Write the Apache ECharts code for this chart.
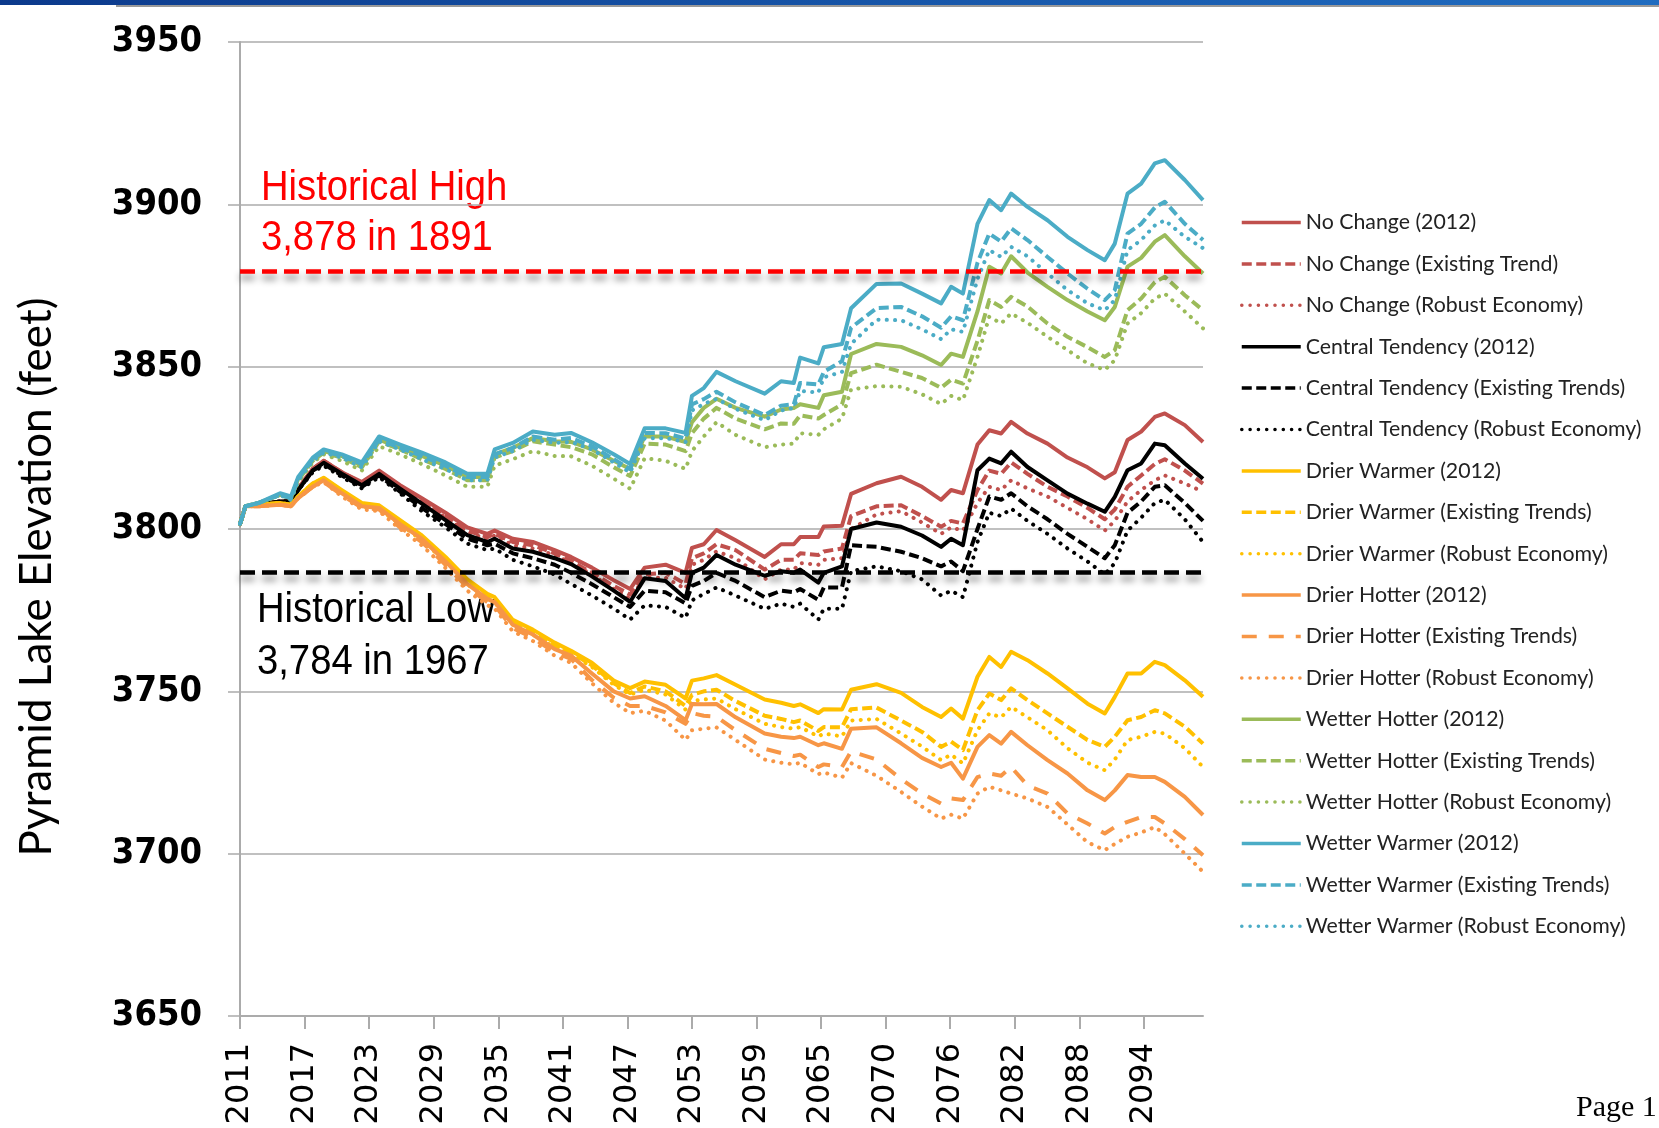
<!DOCTYPE html>
<html>
<head>
<meta charset="utf-8">
<title>Pyramid Lake Elevation</title>
<script src="https://cdn.jsdelivr.net/npm/echarts@6/dist/echarts.min.js"></script>
<style>
html, body { margin: 0; padding: 0; background: #fff; }
#main { width: 1659px; height: 1128px; }
</style>
</head>
<body>
<div id="main"></div>
<script>
// x = months since Oct 2011 (sample points)
var months = [0, 6, 20, 44, 56, 64, 80, 92, 112, 134,
    153, 176, 200, 226, 250, 272, 280, 300, 322, 346,
    364, 387, 411, 429, 445, 468, 490, 497, 510, 524,
    545, 577, 595, 609, 616, 636, 642, 662, 672, 700,
    727, 750, 771, 782, 795, 811, 824, 837, 848, 866,
    888, 910, 932, 951, 962, 976, 991, 1006, 1017, 1039,
    1059];

// axis ticks / labels
var tickMonths = [0, 71, 142, 213, 284, 355, 426, 497, 568, 639, 710, 781, 852, 923, 994];
var tickLabels = ['2011', '2017', '2023', '2029', '2035', '2041', '2047', '2053', '2059', '2065', '2070', '2076', '2082', '2088', '2094'];

var historicalHigh = 3879.5;
var historicalLow = 3786.8;

// No Change
var noChange2012 = [3801.5, 3807, 3807.5, 3808.5, 3808.5, 3812.5, 3818.5, 3821, 3817.5, 3814.5,
    3818, 3813.5, 3809.5, 3805, 3800.5, 3798.5, 3799.5, 3797, 3796, 3793.5,
    3791.4, 3788.1, 3784.2, 3781.5, 3788.1, 3789, 3786.5, 3794.2, 3795.3, 3799.7,
    3796.5, 3791.4, 3795.3, 3795.3, 3797.5, 3797.5, 3800.8, 3801, 3810.8, 3814.1,
    3816.1, 3813, 3809, 3812, 3811, 3826, 3830.4, 3829.4, 3833, 3829.4,
    3826.3, 3822, 3819, 3815.6, 3817.5, 3827.4, 3830, 3834.5, 3835.6, 3832,
    3826.8];
var noChangeTrend = [3801.5, 3807, 3807.5, 3808.5, 3808.5, 3812.5, 3818.5, 3821, 3817.5, 3814,
    3817.5, 3813, 3809, 3804, 3799.5, 3797.5, 3798.5, 3796, 3795, 3792.5,
    3790.2, 3786.5, 3782.5, 3779.8, 3786, 3786.5, 3783.1, 3791, 3792.5, 3795.3,
    3793.5, 3787.5, 3790.5, 3790.5, 3792.5, 3792, 3793.1, 3794, 3804, 3807,
    3807.3, 3804, 3800.7, 3802.5, 3801.7, 3812, 3818, 3817, 3820.5, 3817,
    3813, 3810, 3806.5, 3803, 3806, 3813, 3816.5, 3820, 3821.5, 3818,
    3814];
var noChangeRobust = [3801.5, 3807, 3807.5, 3808.5, 3808.5, 3812.5, 3818.5, 3820.5, 3817, 3813.5,
    3817, 3812.5, 3808.5, 3803.5, 3799, 3797, 3798, 3795, 3794, 3792,
    3789.5, 3786, 3781.5, 3778.5, 3785, 3785, 3781.5, 3789, 3790.5, 3793.1,
    3791, 3784.5, 3787.5, 3787.5, 3789.5, 3789, 3790.5, 3791, 3800, 3804.5,
    3805.5, 3802, 3798.5, 3800.5, 3799.5, 3808, 3813, 3812, 3815, 3812.5,
    3810, 3806.5, 3803, 3799.5, 3802.5, 3808.5, 3812, 3815, 3816.5, 3814,
    3811.5];

// Central Tendency
var central2012 = [3801.5, 3807, 3807.5, 3808.5, 3808.5, 3812, 3818, 3820.4, 3817, 3813.5,
    3817, 3812.4, 3807.8, 3802.7, 3798.1, 3796, 3797, 3794, 3793, 3791,
    3789.2, 3785.4, 3781, 3777.6, 3784.8, 3784, 3778.7, 3786.5, 3788.1, 3792,
    3789, 3785.6, 3787, 3786.5, 3787.5, 3783.5, 3786.5, 3788.5, 3800, 3802,
    3800.7, 3798, 3794.5, 3797, 3795, 3818.1, 3821.7, 3820.2, 3823.8, 3819.1,
    3815, 3810.9, 3807.8, 3805.3, 3809.9, 3818.1, 3820.2, 3826.3, 3825.8, 3820.2,
    3815.5];
var centralTrend = [3801.5, 3807, 3807.5, 3808.5, 3808.5, 3812, 3818, 3820, 3816.5, 3813,
    3816.5, 3811.5, 3806.5, 3801.5, 3797, 3795, 3795.5, 3792.5, 3791, 3789,
    3786.5, 3783, 3779, 3776, 3781, 3780.5, 3777.1, 3782.5, 3784, 3786.5,
    3784, 3779, 3781, 3780.5, 3781.5, 3778.2, 3782, 3782, 3795, 3794.5,
    3793, 3791, 3788.5, 3790, 3787, 3800, 3810, 3809, 3811, 3807,
    3803, 3798.5, 3794.5, 3791, 3795, 3805, 3808.5, 3813, 3813.5, 3808,
    3802.5];
var centralRobust = [3801.5, 3807, 3807.5, 3808.5, 3808.5, 3812, 3817.5, 3819.5, 3816, 3812.5,
    3816, 3811, 3805.5, 3800.5, 3795.5, 3793.5, 3794, 3790.5, 3788.5, 3786,
    3783.1, 3779.5, 3775.5, 3772.1, 3776.5, 3776, 3772.6, 3778, 3780, 3782,
    3779.5, 3775.4, 3777, 3776, 3777, 3772.1, 3775.4, 3775.4, 3787, 3788.5,
    3787, 3784.5, 3779.5, 3781, 3779, 3796, 3805, 3804, 3806.3, 3802.5,
    3798.5, 3794, 3790, 3786, 3789.5, 3799.5, 3803.5, 3808, 3809, 3803,
    3796];

// Drier Warmer
var drierWarmer2012 = [3801.5, 3807, 3807.5, 3808, 3807.5, 3810, 3814, 3815.8, 3812, 3808,
    3807.3, 3802.7, 3798, 3791.4, 3784.5, 3780, 3779, 3772, 3769, 3765,
    3762.5, 3758.8, 3753.3, 3751, 3753, 3752, 3747.8, 3753.3, 3754, 3755,
    3752, 3747.5, 3746.5, 3745.5, 3746, 3743.3, 3744.5, 3744.4, 3750.5, 3752.2,
    3749.5, 3745.2, 3742.1, 3744.7, 3741.6, 3754.5, 3760.6, 3757.5, 3762.2, 3759.6,
    3755.5, 3750.9, 3746.2, 3743.2, 3748.3, 3755.5, 3755.5, 3759.1, 3758.1, 3753.4,
    3748.3];
var drierWarmerTrend = [3801.5, 3807, 3807.5, 3808, 3807.5, 3810, 3814, 3815.5, 3811.5, 3807.5,
    3806.5, 3802, 3797, 3790.5, 3783.5, 3779, 3778, 3771, 3768, 3764,
    3762, 3758, 3752.5, 3749.5, 3751.5, 3750, 3745.5, 3748.9, 3750, 3750.5,
    3747, 3742.5, 3741.5, 3740.5, 3741, 3737.8, 3739, 3738.9, 3744.5, 3745,
    3741, 3737.5, 3732.9, 3734.5, 3731.9, 3744.2, 3749.3, 3747.3, 3750.9, 3747.3,
    3743.2, 3739.1, 3735, 3732.9, 3736, 3741.1, 3742.1, 3744.2, 3743.2, 3739.1,
    3733.9];
var drierWarmerRobust = [3801.5, 3807, 3807.5, 3808, 3807.5, 3810, 3814, 3815.5, 3811.5, 3807,
    3806, 3801.5, 3796.5, 3790, 3783, 3778.5, 3777.5, 3770.5, 3767.5, 3763.5,
    3761.5, 3757.5, 3752, 3749, 3750.5, 3749, 3744.4, 3747, 3747.5, 3747.8,
    3744.5, 3740, 3739, 3738.5, 3739, 3736.1, 3737, 3736.1, 3741, 3741.5,
    3737, 3733, 3728.8, 3730.5, 3727.8, 3738, 3743.2, 3742, 3745.2, 3742,
    3738, 3732.5, 3728, 3725.7, 3729, 3735, 3736, 3737.5, 3737, 3732.5,
    3726.7];

// Drier Hotter
var drierHotter2012 = [3801.5, 3807, 3807, 3807.5, 3807, 3809.5, 3813, 3815, 3811, 3807,
    3806.5, 3801.5, 3797, 3790, 3783, 3778.5, 3777.5, 3770.5, 3767.5, 3763,
    3761, 3755.5, 3750, 3747.8, 3748.5, 3745.5, 3741.1, 3746.1, 3746, 3746.1,
    3742, 3737, 3736, 3735.6, 3736, 3733.4, 3734, 3732.3, 3738.5, 3738.9,
    3734, 3729.5, 3726.7, 3728, 3723.1, 3732.9, 3736.5, 3733.9, 3737.5, 3733.4,
    3728.8, 3724.7, 3719.5, 3716.5, 3719.5, 3724.2, 3723.6, 3723.6, 3722.1, 3717.5,
    3711.9];
var drierHotterTrend = [3801.5, 3807, 3807, 3807.5, 3807, 3809.5, 3813, 3814.5, 3810.5, 3806.5,
    3806, 3800.5, 3796, 3789, 3782, 3777.5, 3776.5, 3769.5, 3766.5, 3762,
    3760, 3753.5, 3748, 3745.5, 3745.5, 3743.5, 3740, 3743.3, 3742.5, 3742.2,
    3738, 3732.3, 3731, 3730.1, 3730.5, 3726.7, 3727.5, 3726.7, 3731.5, 3729,
    3723, 3718.5, 3715.4, 3717, 3716.5, 3723.6, 3724.7, 3724, 3726.7, 3721,
    3718.5, 3712.4, 3709.3, 3706.2, 3708.2, 3709.8, 3711.3, 3711.3, 3709.3, 3704.5,
    3699.5];
var drierHotterRobust = [3801.5, 3807, 3807, 3807.5, 3807, 3809.5, 3813, 3814.5, 3810, 3806,
    3805.5, 3800, 3795, 3788, 3781, 3776.5, 3775.5, 3768.5, 3765.5, 3761,
    3758.8, 3752.5, 3746.5, 3743.3, 3744, 3741, 3735, 3738, 3738.5, 3738.9,
    3735, 3729, 3728, 3727.5, 3728, 3724.5, 3725, 3723.4, 3727.9, 3724,
    3719, 3714.5, 3710.8, 3712, 3710.8, 3718.5, 3720.6, 3719.5, 3718.5, 3717,
    3714.4, 3709, 3703.5, 3701.1, 3703, 3705.2, 3706.5, 3708.2, 3706, 3700,
    3694.4];

// Wetter Hotter
var wetterHotter2012 = [3801.5, 3807, 3808, 3810.5, 3809.5, 3815.5, 3821.5, 3824, 3822.5, 3819.5,
    3827.5, 3825, 3822.5, 3819.5, 3816, 3816, 3823, 3825, 3828, 3827,
    3826.8, 3824.5, 3821, 3818.5, 3828.5, 3828.5, 3826.8, 3832.9, 3837.3, 3840.1,
    3837.3, 3834.6, 3836.8, 3837.3, 3838.4, 3837.3, 3841.2, 3842.3, 3853.9, 3857,
    3856.1, 3853.5, 3850.5, 3854, 3853, 3867, 3880.8, 3878.7, 3884, 3879,
    3874.6, 3870.5, 3867, 3864.3, 3868.4, 3880.8, 3883.5, 3888.5, 3890.5, 3884,
    3878.7];
var wetterHotterTrend = [3801.5, 3807, 3808, 3810.5, 3809.5, 3815, 3821, 3823.5, 3822, 3819,
    3827, 3824.5, 3821.5, 3818.5, 3815, 3815, 3822, 3824, 3827, 3826,
    3825.2, 3823, 3819, 3816.3, 3826.3, 3826, 3824, 3829.5, 3834, 3837.3,
    3834, 3830.7, 3832.5, 3832.4, 3835, 3834, 3835.1, 3838.4, 3848, 3850.6,
    3848.4, 3846.5, 3843.5, 3846, 3844.8, 3858, 3870.5, 3868.4, 3871.5, 3868.5,
    3863.3, 3859.2, 3856, 3853, 3855.1, 3867.4, 3871, 3876, 3877.7, 3872,
    3867.4];
var wetterHotterRobust = [3801.5, 3807, 3808, 3810.5, 3809, 3814.5, 3820.5, 3823, 3821, 3818,
    3825.5, 3823, 3820, 3816.5, 3813, 3813, 3819.5, 3821.5, 3824, 3822.5,
    3822.4, 3819.5, 3815.5, 3812.4, 3821.8, 3821, 3818.5, 3824, 3828.5, 3832.9,
    3829, 3825.2, 3826, 3826.3, 3829.5, 3829, 3830.7, 3834, 3843, 3844,
    3843.8, 3841.5, 3838.5, 3841, 3839.7, 3853, 3865.4, 3863.3, 3866.4, 3863.5,
    3859.2, 3855.1, 3851, 3849, 3852, 3863.3, 3866.5, 3871, 3872.5, 3867,
    3861.8];

// Wetter Warmer
var wetterWarmer2012 = [3801.5, 3807, 3808, 3811, 3810, 3816, 3822, 3824.5, 3823, 3820.5,
    3828.5, 3826, 3823.5, 3820.5, 3817, 3817, 3824.5, 3826.5, 3830, 3829,
    3829.6, 3826.7, 3823, 3820, 3831, 3831, 3829.6, 3841, 3843.4, 3848.4,
    3845.5, 3841.7, 3845.5, 3845, 3852.8, 3851, 3856, 3857, 3868, 3875.5,
    3875.6, 3872.5, 3869.5, 3874.6, 3872.5, 3894, 3901.3, 3898.2, 3903.3, 3899.2,
    3895.1, 3890, 3885.9, 3882.8, 3887.9, 3903.3, 3906.4, 3912.6, 3913.6, 3907.5,
    3901.3];
var wetterWarmerTrend = [3801.5, 3807, 3808, 3810.5, 3809.5, 3815.5, 3821.5, 3824, 3822.5, 3820,
    3827.5, 3825, 3822.5, 3819.5, 3816, 3816, 3823, 3825, 3828.5, 3827.5,
    3828, 3825.5, 3821.5, 3818.5, 3829.6, 3829.5, 3827.9, 3838.4, 3840, 3842.3,
    3839, 3835.1, 3838, 3838.4, 3845, 3844.5, 3848.4, 3851.7, 3862, 3868,
    3868.4, 3865.5, 3862, 3865.5, 3864.3, 3882, 3891, 3888.5, 3892.6, 3889,
    3883.8, 3878.7, 3874, 3870.5, 3873.6, 3891, 3894, 3899, 3900.8, 3894,
    3889];
var wetterWarmerRobust = [3801.5, 3807, 3808, 3810.5, 3809, 3815, 3821, 3823.5, 3822, 3819,
    3827, 3824.5, 3821.5, 3818.5, 3815, 3815, 3822, 3824, 3827.5, 3826.5,
    3826.8, 3824.5, 3820.5, 3817.4, 3827.9, 3828, 3826.8, 3836.5, 3838.5, 3840.1,
    3837, 3833.5, 3836.5, 3837.3, 3842.5, 3842, 3846.7, 3848.4, 3857, 3864.5,
    3864.3, 3861.5, 3858.5, 3861.5, 3860.7, 3877, 3885.9, 3883.8, 3886.9, 3884,
    3878.7, 3873.6, 3869.5, 3867.4, 3870.5, 3885.9, 3889, 3893.5, 3895.1, 3890,
    3886.5];

// line styles
var SOLID = 'solid';
var DASH = [10, 4.5];
var LONGDASH = [15, 12];
var DOT = [0.1, 8.2];

var lines = [
    ['No Change (2012)', noChange2012, '#C0504D', SOLID],
    ['No Change (Existing Trend)', noChangeTrend, '#C0504D', DASH],
    ['No Change (Robust Economy)', noChangeRobust, '#C0504D', DOT],
    ['Central Tendency (2012)', central2012, '#000000', SOLID],
    ['Central Tendency (Existing Trends)', centralTrend, '#000000', DASH],
    ['Central Tendency (Robust Economy)', centralRobust, '#000000', DOT],
    ['Drier Warmer (2012)', drierWarmer2012, '#FFC000', SOLID],
    ['Drier Warmer (Existing Trends)', drierWarmerTrend, '#FFC000', DASH],
    ['Drier Warmer (Robust Economy)', drierWarmerRobust, '#FFC000', DOT],
    ['Drier Hotter (2012)', drierHotter2012, '#F79646', SOLID],
    ['Drier Hotter (Existing Trends)', drierHotterTrend, '#F79646', LONGDASH],
    ['Drier Hotter (Robust Economy)', drierHotterRobust, '#F79646', DOT],
    ['Wetter Hotter (2012)', wetterHotter2012, '#9BBB59', SOLID],
    ['Wetter Hotter (Existing Trends)', wetterHotterTrend, '#9BBB59', DASH],
    ['Wetter Hotter (Robust Economy)', wetterHotterRobust, '#9BBB59', DOT],
    ['Wetter Warmer (2012)', wetterWarmer2012, '#4BACC6', SOLID],
    ['Wetter Warmer (Existing Trends)', wetterWarmerTrend, '#4BACC6', DASH],
    ['Wetter Warmer (Robust Economy)', wetterWarmerRobust, '#4BACC6', DOT]
];

var gray = '#ababab';
var series = [];
var legendNames = [];

for (var i = 0; i < lines.length; i++) {
    var vals = lines[i][1];
    var pts = [];
    for (var j = 0; j < months.length; j++) {
        pts.push([months[j], vals[j]]);
    }
    legendNames.push(lines[i][0]);
    series.push({
        name: lines[i][0],
        type: 'line',
        data: pts,
        symbol: 'none',
        silent: true,
        lineStyle: {
            color: lines[i][2],
            width: 4,
            type: lines[i][3],
            cap: lines[i][3] === DOT ? 'round' : 'butt',
            join: 'round'
        },
        itemStyle: { color: lines[i][2] }
    });
}

// historical high / low lines
series.push({
    type: 'line',
    data: [],
    z: 10,
    silent: true,
    markLine: {
        symbol: 'none',
        silent: true,
        label: { show: false },
        data: [
            { yAxis: historicalHigh, lineStyle: { color: '#ff0000' } },
            { yAxis: historicalLow, lineStyle: { color: '#000000' } }
        ],
        lineStyle: {
            width: 4.5,
            type: [15, 7],
            shadowColor: 'rgba(0,0,0,0.45)',
            shadowBlur: 7,
            shadowOffsetY: 6
        }
    }
});

// condensed annotation text
function note(txt, x, y, color) {
    return {
        type: 'text',
        x: x,
        y: y,
        scaleX: 0.91,
        style: {
            text: txt,
            fill: color,
            font: "42px 'Liberation Sans'",
            textVerticalAlign: 'middle'
        }
    };
}

var myChart = echarts.init(document.getElementById('main'));

var option = {
    animation: false,
    backgroundColor: '#ffffff',
    grid: {
        left: 240,
        top: 42,
        right: 456,
        bottom: 112,
        containLabel: false,
        outerBoundsMode: 'none'
    },
    legend: {
        data: legendNames,
        orient: 'vertical',
        left: 1240,
        top: 212,
        padding: 0,
        itemWidth: 59,
        itemHeight: 20,
        itemGap: 20.4,
        selectedMode: false,
        itemStyle: { opacity: 0, color: 'transparent', borderWidth: 0 },
        lineStyle: { width: 3.5 },
        textStyle: {
            fontFamily: 'Lato',
            fontSize: 21.3,
            lineHeight: 20,
            color: '#222222'
        }
    },
    xAxis: {
        type: 'value',
        min: 0,
        max: 1059,
        axisLine: { show: true, lineStyle: { color: gray, width: 2 } },
        axisTick: {
            show: true,
            length: 13,
            customValues: tickMonths,
            lineStyle: { color: gray, width: 2 }
        },
        splitLine: { show: false },
        axisLabel: {
            customValues: tickMonths,
            rotate: 90,
            margin: 27,
            fontFamily: 'DejaVu Sans',
            fontSize: 32,
            color: '#000000',
            formatter: function (v) {
                var k = tickMonths.indexOf(v);
                return k >= 0 ? tickLabels[k] : '';
            }
        }
    },
    yAxis: {
        type: 'value',
        min: 3650,
        max: 3950,
        interval: 50,
        axisLine: { show: true, lineStyle: { color: gray, width: 2 } },
        axisTick: { show: true, length: 12, lineStyle: { color: gray, width: 1.5 } },
        splitLine: { show: true, lineStyle: { color: gray, width: 1.5 } },
        axisLabel: {
            margin: 38,
            fontFamily: "'DejaVu Sans Condensed', 'Liberation Sans'",
            fontWeight: 'bold',
            fontSize: 36,
            color: '#000000',
            formatter: function (v) { return String(v); }
        }
    },
    graphic: [
        {
            type: 'rect',
            shape: { x: 0, y: 0, width: 1659, height: 5 },
            style: {
                fill: new echarts.graphic.LinearGradient(0, 0, 1, 0, [
                    { offset: 0, color: '#0c3a8c' },
                    { offset: 1, color: '#1f6cc0' }
                ])
            }
        },
        {
            type: 'rect',
            shape: { x: 116, y: 5, width: 1543, height: 2 },
            style: { fill: '#999999' }
        },
        // y axis title
        {
            type: 'text',
            x: 37,
            y: 577,
            rotation: Math.PI / 2,
            style: {
                text: 'Pyramid Lake Elevation (feet)',
                fill: '#000000',
                font: "44px 'Lato'",
                textAlign: 'center',
                textVerticalAlign: 'middle'
            }
        },
        note('Historical High', 261, 188, '#ff0000'),
        note('3,878 in 1891', 261, 238, '#ff0000'),
        note('Historical Low', 257, 610, '#000000'),
        note('3,784 in 1967', 257, 662, '#000000'),
        {
            type: 'text',
            x: 1576,
            y: 1108,
            style: {
                text: 'Page 1',
                fill: '#000000',
                font: "30px 'Liberation Serif'",
                textVerticalAlign: 'middle'
            }
        }
    ],
    series: series
};

myChart.setOption(option);
</script>
</body>
</html>
